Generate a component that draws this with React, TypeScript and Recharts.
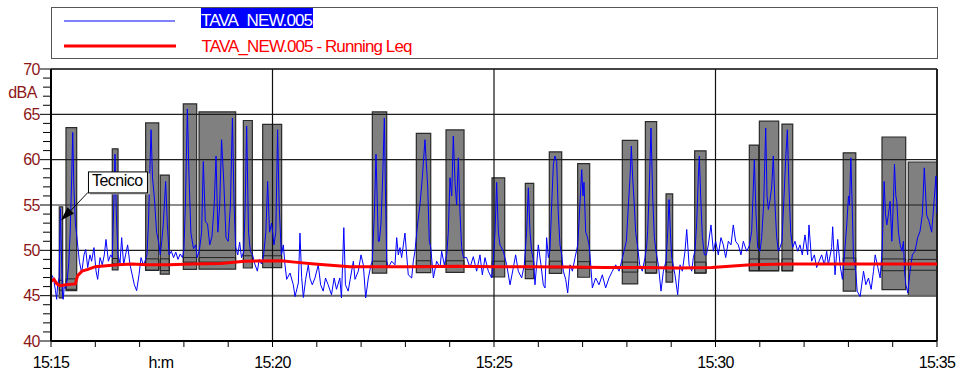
import React from 'react';
import {
  LineChart,
  Line,
  XAxis,
  YAxis,
  ReferenceLine,
  ReferenceArea,
  ReferenceDot,
  Legend,
} from 'recharts';

// seconds after 15:15:00, level in dBA
const instantLevels: [number, number][] = [
  [0, 46.9], [2, 47.2], [4, 46.6], [6, 45.6], [7.7, 44.6], [9, 46.2], [11, 47.0], [12.8, 54.6], [14, 50], [15.5, 45.2],
  [16.5, 44.6], [18, 46.0], [20, 45.8], [22, 46.8], [24, 48.5], [26, 52], [28, 58], [29.4, 63.0], [31, 57], [33, 53],
  [35, 51.5], [36.5, 50.3], [38.4, 48.8], [41.5, 47.5], [44.7, 49.5], [47, 50.1], [49.7, 48.1], [52.8, 49.5], [55, 48.8], [58.2, 50.3],
  [61, 47.7], [63.2, 46.8], [66.4, 49.2], [69.5, 48.4], [72.2, 49.5], [74.5, 51.2], [77.7, 48.8], [80.8, 49.5], [83, 49.2], [85.3, 55.8],
  [86.7, 60.6], [88.5, 54], [90.7, 49.5], [93.5, 48.6], [95.7, 51.4], [98.4, 48.4], [101, 49.5], [103.8, 50.6], [107, 48.4], [110, 47.3],
  [112.9, 46.2], [116, 45.55], [119.2, 47.3], [121.9, 49.2], [125, 48.4], [127.3, 48.8], [130, 49.5], [132, 53], [134, 59], [135.5, 63.3],
  [137.5, 58], [140, 55.8], [143, 52], [146, 50.8], [148, 49.5], [150, 51], [152, 52.8], [155.3, 57.6], [157.5, 53], [160, 49.5],
  [163, 49.9], [166, 49.2], [169, 49.8], [172, 49.0], [175, 49.6], [178, 49.2], [180, 50], [182, 55], [184.7, 65.6], [187, 58],
  [189.5, 51.9], [193, 50.2], [196, 50.6], [198, 49.2], [201, 50], [204, 52], [206.3, 59.8], [209, 53.2], [212, 52.9], [215, 50.6],
  [218, 51.5], [221, 55], [223.5, 60.4], [226, 52], [228.5, 55], [231, 62.2], [234, 57.6], [237, 51.4], [240, 51.0], [243, 55],
  [245.7, 64.6], [248, 55], [250, 50.4], [253, 49.5], [255.5, 50.9], [258, 49.2], [261, 49.8], [263, 55], [265, 63.7], [267.5, 52],
  [270, 49.9], [273, 49.5], [276, 48.5], [279.5, 47.7], [282, 49.0], [285, 48.5], [288, 49.5], [291, 52], [293.4, 57.6], [296, 52],
  [298.8, 53], [302, 50.6], [304.5, 52], [306.9, 63.3], [309, 55], [312, 49.5], [314.7, 50.6], [316.9, 48.4], [319.2, 46.8], [323.7, 47.5],
  [328.2, 46.2], [330.5, 44.9], [335, 46.4], [337.2, 51.9], [339.5, 47.0], [341.8, 44.8], [344.9, 46.8], [348.5, 48.4], [350.8, 46.9], [353.9, 46.2],
  [357.5, 46.95], [362, 48.4], [365.2, 46.2], [368.7, 45.5], [371.8, 46.95], [375.4, 46.2], [379.9, 45.1], [383.5, 46.95], [386.7, 45.7], [391.2, 46.95],
  [393.4, 44.75], [396.6, 52.5], [398.8, 46.2], [402.5, 45.5], [405.2, 46.8], [409.5, 48.8], [411.7, 46.8], [416.2, 47.7], [419.9, 49.5], [423, 48.4],
  [426.2, 44.75], [429.8, 46.95], [433.4, 48.4], [435.2, 48.8], [437.9, 54], [440.2, 60.6], [443.3, 51], [444.7, 51], [446.9, 52.9], [449.2, 58],
  [451.5, 64.6], [453.3, 55], [454.7, 48.8], [456.9, 48.1], [461.4, 48.8], [465.9, 48.4], [468.2, 51.4], [470.4, 49.5], [472.7, 50.3], [474.9, 49.2],
  [479.4, 51.9], [481.7, 49.5], [483.9, 47.3], [488.5, 46.95], [490.7, 48.8], [492.9, 49.9], [496.5, 52.9], [499.7, 55], [502.9, 58], [506.5, 62.2],
  [510.2, 57], [512.4, 51], [514.3, 50.3], [517.9, 46.95], [522.3, 48.8], [526.9, 48.1], [529.1, 49.9], [532.7, 48.4], [535.9, 49.5], [538.1, 52],
  [540.4, 58], [542.7, 56], [544.9, 62.6], [547.2, 57.5], [549.4, 55], [551.7, 60.2], [554, 54], [556.2, 50.3], [558.5, 49.2], [563, 49.2],
  [567.5, 48.1], [572, 49.3], [576.5, 47.7], [581, 49.5], [584.2, 47.3], [587.8, 49.2], [592.3, 47.7], [596.8, 46.95], [599.1, 49], [601.4, 52],
  [603.6, 57.5], [605.9, 52], [608.1, 50.6], [612.6, 49.9], [617.2, 48.4], [621.7, 46.2], [626.2, 48.1], [629.3, 49.5], [632.9, 47.7], [637.5, 46.95],
  [641, 48.4], [644.2, 52], [646.5, 56.9], [648.8, 52], [651, 49.9], [653.7, 48.8], [655.5, 46.2], [660, 50.6], [663.6, 48.4], [666.8, 46.2],
  [669.1, 45.85], [671.3, 51.4], [673.6, 49.2], [675.8, 50], [678.1, 55], [680.4, 59.5], [682.6, 60.4], [684.9, 59.8], [687.1, 54], [689.4, 50.6],
  [691.7, 49.5], [693.9, 47.7], [697.1, 46.8], [699.8, 45.3], [703, 48.4], [706.2, 47.7], [709.8, 49.2], [713.4, 50.6], [715.7, 54], [718.8, 58.9],
  [720.5, 56], [721.9, 57.5], [724.2, 52], [726.4, 51.5], [728.7, 50.6], [730.5, 49], [733.2, 45.85], [737.7, 46.95], [742.2, 46.2], [746.7, 47.3],
  [751.2, 45.85], [755.8, 46.95], [760.3, 47.7], [764.8, 48.4], [769.3, 47.7], [772.9, 48.8], [776.1, 49.9], [779.3, 51], [782, 55], [784.2, 58],
  [786, 61.5], [787.8, 58], [789.6, 55.6], [791.9, 52], [794.2, 50.6], [797.3, 48.4], [800.9, 47.7], [804.5, 49.2], [806.8, 50.5], [808.1, 52.1],
  [810.4, 57], [812.6, 63.5], [814.9, 56], [817.2, 51.4], [819.4, 49.9], [822.6, 48.4], [826.2, 45.5], [829.4, 47.7], [833, 48.8], [835.3, 52],
  [837.1, 55.6], [838.9, 52], [840.7, 49.2], [845.1, 47.3], [848.8, 45.1], [852, 48.4], [855.1, 47.7], [858.7, 49.9], [861, 52.3], [864.2, 48.4],
  [867.8, 47.7], [870, 49.2], [872.3, 50], [874.5, 53], [876.7, 58], [878.1, 60.4], [879.9, 56], [882.2, 51.5], [884.9, 49.5], [887.6, 49.5],
  [890.3, 50.6], [893.9, 52.8], [897.1, 49.9], [900.2, 51], [903.8, 49.5], [907.4, 51.4], [910.6, 50.6], [913.8, 49.2], [917.4, 51], [921, 50.6],
  [924.1, 52.8], [927.3, 51], [930.9, 50.6], [934.5, 49.5], [937.7, 51], [942.2, 49.9], [945.8, 50.5], [949, 52.1], [950.8, 56], [952.6, 60],
  [954.9, 54], [957.1, 50.3], [960.3, 49.9], [962.5, 51.4], [965.2, 55], [968, 63.5], [969.8, 56], [971.6, 54.5], [973.8, 55.5], [976.1, 57],
  [978.3, 60.4], [980.6, 55], [982.8, 51.5], [985.1, 49.9], [987.4, 50.3], [990, 51], [992.3, 55], [995, 60], [997.3, 63.3], [999.5, 57],
  [1001.8, 52], [1004.5, 50.3], [1007.7, 51.0], [1011.3, 49.9], [1014.4, 50.6], [1017.6, 49.5], [1021.2, 51.7], [1024.8, 49.5], [1026.6, 52.8], [1030.2, 48.8],
  [1033.9, 49.5], [1037, 48.1], [1040.2, 48.8], [1043.8, 49.5], [1047.4, 48.4], [1050.6, 49.9], [1052.8, 48.4], [1057.3, 50.3], [1058.7, 52.6], [1061.9, 47.3],
  [1065.5, 51.2], [1068.7, 48.4], [1071.9, 46.8], [1074.7, 49.5], [1077.9, 53], [1080.1, 56], [1081.5, 55], [1083.3, 60.2], [1085.1, 55], [1086.9, 49.2],
  [1090, 47.7], [1091.9, 45.5], [1095.9, 44.9], [1100.5, 47.7], [1103.6, 46.2], [1107.2, 46.95], [1110.8, 45.7], [1114, 47.7], [1116.3, 49.5], [1119.9, 48.1],
  [1123, 46.95], [1125.7, 50], [1128.4, 57.6], [1130.2, 54], [1132, 52.8], [1134.3, 54], [1136.5, 55.4], [1138.8, 51], [1141.1, 55.8], [1142.4, 59.5],
  [1144.2, 56], [1145.6, 55.4], [1147.8, 52], [1150.1, 50.6], [1152.4, 49.9], [1154.6, 51], [1156, 47.7], [1157.8, 46.2], [1160.5, 45.3], [1163.5, 47.7],
  [1166.6, 49.5], [1170.2, 49.9], [1173.8, 51.4], [1177, 52.1], [1180.1, 53.9], [1182.8, 59.1], [1186, 53.9], [1189.2, 53.2], [1192.8, 52], [1196.4, 55.8],
  [1198.6, 58.2], [1200, 54],
];

const runningLeq: [number, number][] = [
  [0, 46.6], [4, 46.8], [8, 46.3], [12, 46.1], [20, 46.2], [33, 46.3], [36, 47.2], [42, 47.7], [50, 47.9], [60, 48.2],
  [75, 48.3], [90, 48.4], [110, 48.5], [130, 48.4], [160, 48.4], [190, 48.5], [230, 48.55], [262, 48.8], [312, 48.85], [330, 48.7],
  [357, 48.5], [405, 48.2], [450, 48.2], [500, 48.2], [550, 48.25], [600, 48.2], [650, 48.2], [700, 48.15], [750, 48.1], [800, 48.1],
  [850, 48.05], [895, 48.1], [948, 48.4], [1000, 48.5], [1050, 48.5], [1100, 48.5], [1150, 48.5], [1200, 48.5],
];

// [start s, end s, min, max, band top, band bottom]
const events: number[][] = [
  [11.2, 15.8, 44.75, 54.8, 46.7, 45.6],
  [20.3, 34.8, 45.56, 63.54, 46.85, 45.7],
  [83.0, 90.8, 47.85, 61.2, 49.1, 48.5],
  [128.2, 145.9, 47.8, 64.05, 49.06, 47.8],
  [148.0, 160.2, 47.37, 58.3, 49.06, 47.77],
  [179.2, 197.3, 47.9, 66.15, 49.2, 48.7],
  [200.5, 250.1, 47.92, 65.27, 49.2, 48.7],
  [260.5, 272.7, 48.05, 64.32, 49.4, 48.8],
  [286.7, 312.4, 48.1, 63.9, 49.4, 48.8],
  [435.2, 454.7, 47.48, 65.27, 48.8, 48.2],
  [494.8, 514.3, 47.55, 62.9, 48.85, 48.3],
  [535.0, 559.4, 47.57, 63.28, 48.85, 48.3],
  [597.3, 614.5, 47.06, 58.0, 48.8, 48.2],
  [642.4, 653.8, 46.88, 57.38, 48.8, 47.9],
  [674.9, 691.7, 47.45, 60.85, 48.8, 48.06],
  [713.3, 729.6, 47.03, 59.57, 48.75, 48.0],
  [773.8, 794.6, 46.29, 62.13, 48.7, 47.6],
  [805.0, 820.3, 47.48, 64.2, 48.7, 47.5],
  [833.0, 842.0, 46.5, 56.22, 48.7, 47.6],
  [871.8, 887.2, 47.49, 60.97, 48.7, 47.5],
  [945.8, 958.5, 47.74, 61.61, 49.05, 47.76],
  [959.4, 985.6, 47.74, 64.25, 49.05, 47.76],
  [990.0, 1004.6, 47.74, 63.93, 49.05, 47.76],
  [1073.0, 1090.0, 45.5, 60.75, 49.15, 47.9],
  [1125.5, 1157.6, 45.66, 62.5, 49.05, 47.75],
  [1161.1, 1200, 44.97, 59.74, 49.0, 47.8],
];

const minuteTicks = [0, 60, 120, 180, 240, 300, 360, 420, 480, 540, 600, 660, 720, 780, 840, 900, 960, 1020, 1080, 1140, 1200];
const timeLabelAt = [0, 300, 600, 900, 1200];
const timeLabels = ['15:15', '15:20', '15:25', '15:30', '15:35'];
const levelTicks = [40, 41, 42, 43, 44, 45, 46, 47, 48, 49, 50, 51, 52, 53, 54, 55, 56, 57, 58, 59, 60, 61, 62, 63, 64, 65, 66, 67, 68, 69, 70];
const gridLevels = [50, 55, 60, 65];
const gridTimes = [300, 600, 900];
const seriesNames = ['TAVA_NEW.005', 'TAVA_NEW.005 - Running Leq'];
const seriesColors = ['#0000ff', '#ff0000'];
const callout = { t: 13.5, level: 53.3, text: 'Tecnico' };
const unitLabel = { t: 149, text: 'h:m' };

const FONT = "'Liberation Sans', Arial, sans-serif";
const AXIS_RED = '#8c1616';

const instantData = instantLevels.map(([t, v]) => ({ t, v }));
const leqData = runningLeq.map(([t, v]) => ({ t, v }));

const LevelTick = (props: any) => {
  const { x, y, payload } = props;
  const major = payload.value % 5 === 0;
  return (
    <g>
      <line x1={x - (major ? 11 : 8)} x2={x} y1={y} y2={y} stroke="#000" strokeWidth={1} />
      {major && (
        <text x={x - 11.5} y={y} dy="0.36em" textAnchor="end" fontSize={16} letterSpacing={-0.8} fill={AXIS_RED} fontFamily={FONT}>
          {payload.value}
        </text>
      )}
    </g>
  );
};

const TimeTick = (props: any) => {
  const { x, y, payload } = props;
  const idx = timeLabelAt.indexOf(payload.value);
  return (
    <g>
      <line x1={x} x2={x} y1={y} y2={y + 6} stroke="#000" strokeWidth={1} />
      {idx >= 0 && (
        <text x={x} y={y + 27} textAnchor="middle" fontSize={16} letterSpacing={-0.7} fill="#000" fontFamily={FONT}>
          {timeLabels[idx]}
        </text>
      )}
    </g>
  );
};

const CalloutLabel = (props: any) => {
  const vb = props.viewBox || {};
  const x = vb.x ?? 0;
  const y = vb.y ?? 0;
  return (
    <g>
      <line x1={x + 27} y1={y - 28} x2={x + 8} y2={y - 8} stroke="#000" strokeWidth={1} />
      <polygon points={`${x},${y} ${x + 13},${y - 7} ${x + 6.5},${y - 13.2}`} fill="#000" />
      <rect x={x + 29} y={y - 47} width={60} height={21} fill="#aaa" />
      <rect x={x + 27.5} y={y - 48.5} width={59} height={21} fill="#fff" stroke="#000" strokeWidth={1} />
      <text x={x + 31} y={y - 34} fontSize={16} letterSpacing={-0.5} fill="#000" fontFamily={FONT}>
        {callout.text}
      </text>
    </g>
  );
};

const renderLegend = () => (
  <div style={{ position: 'relative', width: 887, height: 52, border: '1px solid #555', boxSizing: 'border-box', background: '#fff', fontFamily: FONT, fontSize: 17, letterSpacing: -0.9 }}>
    <svg width={130} height={50} style={{ position: 'absolute', left: 0, top: 0 }}>
      <line x1={12} x2={123} y1={13} y2={13} stroke={seriesColors[0]} strokeWidth={1} />
      <line x1={12} x2={124} y1={38} y2={38} stroke={seriesColors[1]} strokeWidth={3} />
    </svg>
    <span style={{ position: 'absolute', left: 149, top: 0, height: 20, lineHeight: '25px', background: seriesColors[0], color: '#fff', paddingRight: 1, whiteSpace: 'nowrap' }}>
      {seriesNames[0]}
    </span>
    <span style={{ position: 'absolute', left: 149.5, top: 26, lineHeight: '25px', color: seriesColors[1], whiteSpace: 'nowrap' }}>
      {seriesNames[1]}
    </span>
  </div>
);

export default function App() {
  return (
    <div style={{ position: 'absolute', left: 0, top: 0, width: 956, height: 372, background: '#fff' }}>
      <LineChart width={956} height={372} margin={{ top: 69, right: 19, bottom: 0, left: 0 }} style={{ fontFamily: FONT }}>
        <XAxis
          dataKey="t"
          type="number"
          domain={[0, 1200]}
          ticks={minuteTicks}
          interval={0}
          height={31}
          allowDataOverflow
          tickLine={false}
          tickSize={0}
          tickMargin={0}
          tick={<TimeTick />}
          axisLine={{ stroke: '#000', strokeWidth: 2 }}
          label={{
            content: (p: any) => {
              const vb = p.viewBox || { x: 51, y: 341, width: 886 };
              return (
                <text x={vb.x + (vb.width * unitLabel.t) / 1200} y={vb.y + 27} textAnchor="middle" fontSize={16} letterSpacing={-0.6} fill="#000" fontFamily={FONT}>
                  {unitLabel.text}
                </text>
              );
            },
          }}
        />
        <YAxis
          type="number"
          domain={[40, 70]}
          ticks={levelTicks}
          interval={0}
          width={51}
          allowDataOverflow
          tickLine={false}
          tickSize={0}
          tickMargin={0}
          tick={<LevelTick />}
          axisLine={{ stroke: '#000', strokeWidth: 2 }}
          label={{
            content: (p: any) => {
              const vb = p.viewBox || { x: 0, y: 69 };
              return (
                <text x={vb.x + 8.3} y={vb.y + 29.3} fontSize={16} letterSpacing={-0.6} fill={AXIS_RED} fontFamily={FONT}>
                  dBA
                </text>
              );
            },
          }}
        />

        {gridLevels.map((v) => (
          <ReferenceLine key={'gy' + v} y={v} stroke="#1e1e1e" strokeWidth={1.2} />
        ))}
        <ReferenceLine y={45} stroke="#666" strokeWidth={2} />
        <ReferenceLine y={70} stroke="#444" strokeWidth={2} />
        {gridTimes.map((t) => (
          <ReferenceLine key={'gx' + t} x={t} stroke="#111" strokeWidth={1.2} />
        ))}
        <ReferenceLine x={1200} stroke="#222" strokeWidth={2} />

        {events.map((e, i) => (
          <ReferenceArea
            key={'ev' + i}
            x1={e[0]}
            x2={e[1]}
            y1={e[2]}
            y2={e[3]}
            fill="#808080"
            fillOpacity={1}
            stroke="#2a2a2a"
            strokeWidth={1.2}
            ifOverflow="visible"
          />
        ))}
        {events.map((e, i) => (
          <ReferenceArea
            key={'band' + i}
            x1={e[0]}
            x2={e[1]}
            y1={e[5]}
            y2={e[4]}
            fill="none"
            fillOpacity={0}
            stroke="#222"
            strokeWidth={1}
            ifOverflow="visible"
          />
        ))}

        <Line
          data={instantData}
          dataKey="v"
          name={seriesNames[0]}
          type="linear"
          stroke={seriesColors[0]}
          strokeWidth={1}
          dot={false}
          isAnimationActive={false}
        />
        <Line
          data={leqData}
          dataKey="v"
          name={seriesNames[1]}
          type="linear"
          stroke={seriesColors[1]}
          strokeWidth={3}
          dot={false}
          isAnimationActive={false}
        />

        <ReferenceDot
          x={callout.t}
          y={callout.level}
          r={0}
          fill="none"
          stroke="none"
          ifOverflow="visible"
          label={(p: any) => <CalloutLabel {...p} />}
        />

        <Legend
          verticalAlign="middle"
          align="center"
          layout="horizontal"
          content={renderLegend}
          wrapperStyle={{ left: 51, top: 7, width: 887, height: 52 }}
        />
      </LineChart>
    </div>
  );
}
